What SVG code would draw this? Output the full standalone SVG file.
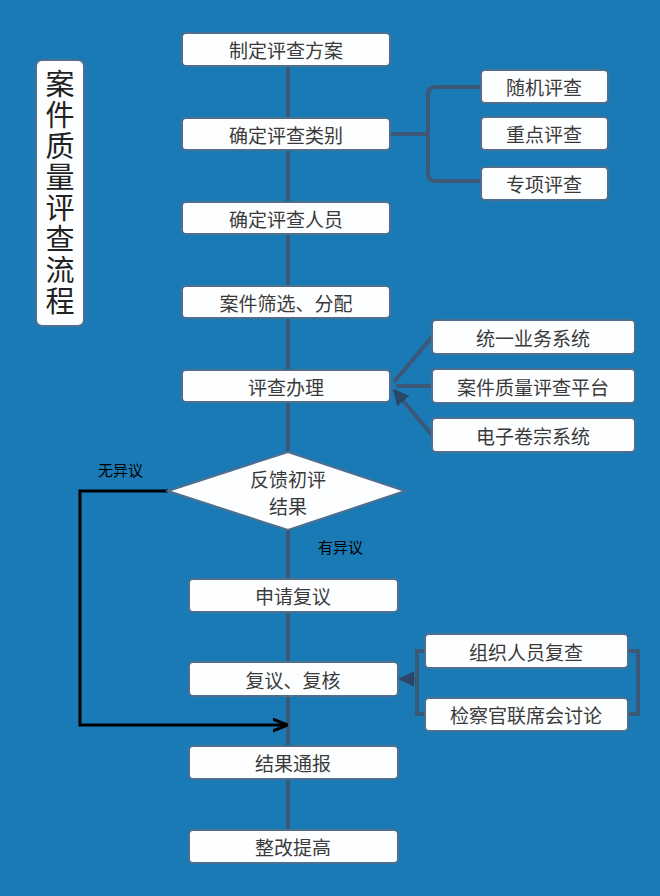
<svg xmlns="http://www.w3.org/2000/svg" width="660" height="896" viewBox="0 0 660 896">
<style>
.b{fill:#fdfeff;stroke:#4f6f8f;stroke-width:2}
.t{font-family:"Noto Sans CJK SC",sans-serif;font-size:19px;fill:#3a3a3a;text-anchor:middle;dominant-baseline:central}
.c{stroke:#3b5877;stroke-width:4;fill:none}
.k{font-family:"Noto Sans CJK SC",sans-serif;font-size:15px;fill:#000}
</style>
<defs>
<marker id="a" viewBox="0 0 10 10" refX="9" refY="5" markerWidth="4" markerHeight="4" orient="auto"><path d="M0,0L10,5L0,10z" fill="#2c4668"/></marker>
<marker id="ab" viewBox="0 0 10 10" refX="9" refY="5" markerWidth="5" markerHeight="5" orient="auto"><path d="M0,1L10,5L0,9" fill="none" stroke="#000" stroke-width="2"/></marker>
</defs>
<rect width="660" height="896" fill="#1a7ab5"/>
<g id="connectors">
<path class="c" d="M288,66V370M288,402V452M288,530V830"/>
<path class="c" d="M390,134H428M481,87H436Q428,87 428,95V173Q428,181 436,181H481"/>
<path class="c" d="M432,337L394,382M432,386H396M432,435L394,390" marker-end="url(#a)"/>
<path class="c" d="M425,651H417V714H425M628,651H638V714H628M417,679H400" marker-end="url(#a)"/>
<path d="M168,491H80V725H286" fill="none" stroke="#000" stroke-width="3" marker-end="url(#ab)"/>
</g>
<g id="title"><rect x="36" y="60" width="48" height="266" rx="6" class="b"/>
<text x="60" y="193" font-family="Noto Sans CJK SC,sans-serif" font-size="29" fill="#222" text-anchor="middle" dominant-baseline="central" writing-mode="tb" letter-spacing="2">案件质量评查流程</text></g>
<g id="n1"><rect x="182" y="33" width="208" height="33" rx="4" class="b"/><text x="286" y="49" class="t">制定评查方案</text></g>
<g id="n2"><rect x="182" y="118" width="208" height="32" rx="4" class="b"/><text x="286" y="134" class="t">确定评查类别</text></g>
<g id="n3"><rect x="182" y="202" width="208" height="32" rx="4" class="b"/><text x="286" y="218" class="t">确定评查人员</text></g>
<g id="n4"><rect x="182" y="286" width="208" height="32" rx="4" class="b"/><text x="286" y="302" class="t">案件筛选、分配</text></g>
<g id="n5"><rect x="182" y="370" width="208" height="32" rx="4" class="b"/><text x="286" y="386" class="t">评查办理</text></g>
<g id="r1"><rect x="481" y="70" width="127" height="33" rx="4" class="b"/><text x="544" y="86" class="t">随机评查</text></g>
<g id="r2"><rect x="481" y="117" width="127" height="33" rx="4" class="b"/><text x="544" y="133" class="t">重点评查</text></g>
<g id="r3"><rect x="481" y="167" width="127" height="33" rx="4" class="b"/><text x="544" y="183" class="t">专项评查</text></g>
<g id="s1"><rect x="432" y="320" width="203" height="34" rx="4" class="b"/><text x="533" y="337" class="t">统一业务系统</text></g>
<g id="s2"><rect x="432" y="369" width="203" height="34" rx="4" class="b"/><text x="533" y="386" class="t">案件质量评查平台</text></g>
<g id="s3"><rect x="432" y="418" width="203" height="34" rx="4" class="b"/><text x="533" y="435" class="t">电子卷宗系统</text></g>
<g id="d"><path d="M288,452L405,491L288,530L168,491Z" class="b"/><text x="288" y="478" class="t">反馈初评</text><text x="288" y="505" class="t">结果</text></g>
<text x="98" y="476" class="k">无异议</text>
<text x="318" y="553" class="k" font-size="17">有异议</text>
<g id="n6"><rect x="189" y="579" width="209" height="33" rx="4" class="b"/><text x="293" y="595" class="t">申请复议</text></g>
<g id="n7"><rect x="189" y="662" width="209" height="34" rx="4" class="b"/><text x="293" y="679" class="t">复议、复核</text></g>
<g id="n8"><rect x="189" y="746" width="209" height="33" rx="4" class="b"/><text x="293" y="762" class="t">结果通报</text></g>
<g id="n9"><rect x="189" y="830" width="209" height="33" rx="4" class="b"/><text x="293" y="846" class="t">整改提高</text></g>
<g id="q1"><rect x="425" y="634" width="203" height="34" rx="4" class="b"/><text x="526" y="651" class="t">组织人员复查</text></g>
<g id="q2"><rect x="425" y="698" width="203" height="33" rx="4" class="b"/><text x="526" y="714" class="t">检察官联席会讨论</text></g>
</svg>
